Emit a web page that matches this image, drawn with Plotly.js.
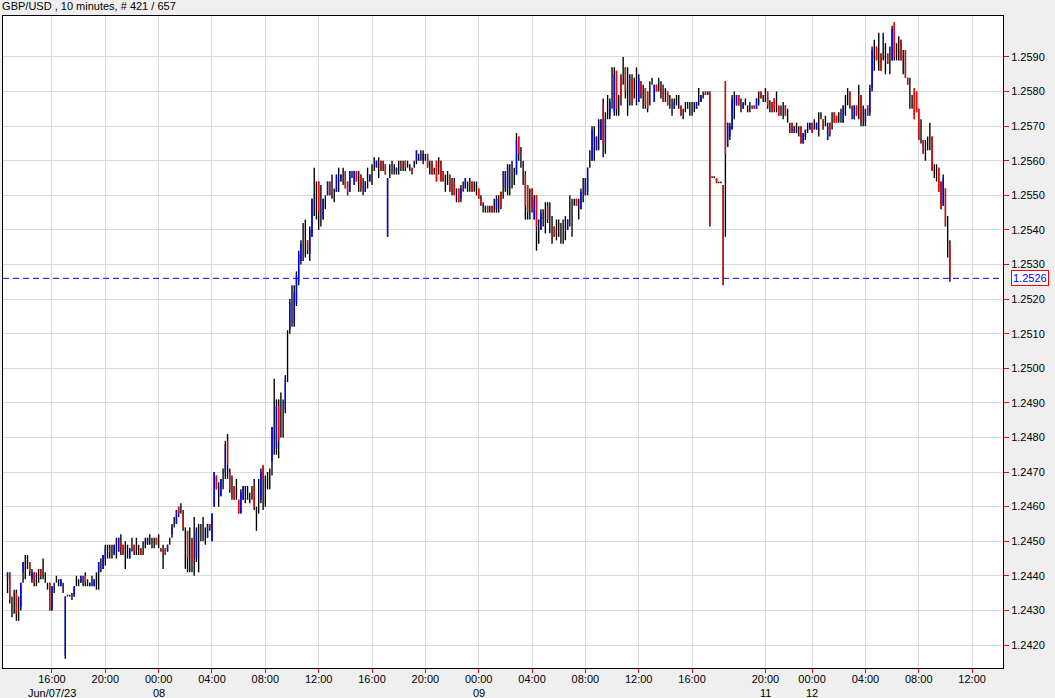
<!DOCTYPE html>
<html>
<head>
<meta charset="utf-8">
<script src="https://cdn.plot.ly/plotly-3.0.1.min.js"></script>
<style>
  html, body { margin: 0; padding: 0; background: #efefef; }
  #chart { width: 1055px; height: 698px; }
</style>
</head>
<body>
<div id="chart"></div>
<script>
// GBP/USD 10-minute bars. Prices stored as pips above 1.2400 (price = 1.2400 + pips * 0.0001)
const chartTitle = "GBP/USD , 10 minutes, # 421 / 657";
const PRICE_BASE = 1.24;
const PIP = 0.0001;

const openPips = [
  39,41,31,33,35,30,31,41,43,44,
  44,39,41,39,40,42,41,40,38,38,
  30,37,39,38,37,37,17,34,34,34,
  34,38,38,38,39,40,38,37,38,37,
  39,41,43,42,45,47,48,47,46,48,
  47,50,49,47,47,45,48,49,48,48,
  48,48,49,49,50,50,49,51,50,48,
  46,48,47,50,52,55,55,60,59,58,
  48,53,47,50,44,45,48,52,53,52,
  51,55,50,60,69,64,63,68,70,79,
  70,65,66,64,62,58,62,63,64,62,
  64,66,57,60,62,72,65,67,67,73,
  82,77,89,81,86,88,103,111,118,113,
  119,125,131,136,137,137,133,138,151,148,
  154,147,143,148,150,154,152,150,151,155,
  154,156,157,154,151,156,153,157,154,156,
  153,151,155,154,156,158,158,158,160,158,
  159,138,157,158,157,157,158,159,159,160,
  159,158,158,159,160,161,162,160,161,162,
  158,159,157,160,158,160,157,154,155,156,
  153,154,150,152,149,152,152,153,153,154,
  152,152,152,149,146,146,147,146,147,147,
  146,148,151,150,152,152,155,156,156,156,
  167,161,157,156,153,147,152,143,150,139,
  140,143,143,147,143,140,141,139,140,139,
  139,140,140,145,143,148,149,146,146,151,
  150,151,160,160,165,163,168,166,176,165,
  173,173,180,174,186,176,184,186,187,180,
  181,184,181,182,177,183,178,181,180,179,
  183,177,182,182,180,182,179,180,177,175,
  175,177,176,176,173,175,176,175,175,175,
  175,178,177,179,180,179,180,155,155,155,
  153.5,153.5,153,183,164,167,169,176,176,179,
  176,175,177,175,175,175,176,175,178,180,
  178,179,180,176,177,178,177,176,174,175,
  176,173,170,171,168,169,168,170,165,167,
  169,169,171,170,169,170,173,172,171,166,
  171,171,174,173,172,173,171,176,178,180,
  174,172,176,177,179,173,171,176,174,181,
  189,193,190,191,192,189,191,189,189,200,
  191,192,195,189,192,184,180,177,181,180,
  175,168,166,163,165,166,167,157,156,158,
  154,147,152,137,136
];

const highPips = [
  41,41,34,36,36,34,38,44,46,46,
  44,42,41,41,42,42,45,41,38,38,
  37,38,40,39,39,38,34,34.5,34.5,35,
  37,40,39,40,40,41,39,38,40,39,
  41,44,45,46,49,49,49,49,49,51,
  51,52,49,50,49,48,51,49,51,49,
  48,50,51,51,52,51,51,51,52,48,
  49,48,49,51,55,57,59,60,61,59,
  54,53,54,51,57,54,55,55,57,54,
  55,55,58,70,69,67,68,71,79,81,
  71,69,66,68,62,65,66,66,66,64,
  66,68,60,68,71,72,69,70,71,83,
  97,91,91,93,91,98,111,120,124,124,
  128,134,137,142,143,137,141,149,158,154,
  154,153,149,150,154,154,156,152,156,158,
  156,158,157,154,157,157,157,157,157,156,
  155,154,158,156,159,161,160,161,160,160,
  159,155,159,160,159,158,160,160,160,160,
  160,159,158,160,163,162,163,163,162,162,
  160,160,158,160,161,160,157,156,157,156,
  155,155,152,152,153,154,155,154,155,154,
  154,154,152,150,148,147,147,147,147,149,
  150,150,151,157,157,159,159,160,158,168,
  167,164,160,157,153,152,152,150,150,143,
  146,146,148,148,148,144,141,143,143,142,
  143,144,143,150,149,149,149,149,152,155,
  155,158,163,170,170,167,172,172,178,174,
  179,178,187,187,186,179,185,190,187,187,
  185,185,184,187,185,183,182,181,180,183,
  184,182,182,184,183,182,181,180,179,178,
  178,179,179,176,175,177,177,177,177,177,
  177,181,179,180,180,180,180,155.5,155.5,155,
  154,154,153,183,171,171,179,180,179,179,
  178,177,178,176,177,176,176,178,180,180,
  179,181,180,177.5,177,178,180,176,176,177,
  176,175,171,171,170,171,170,170,168,169,
  171,171,171,172,171,174,174,172,173,171,
  171,174,174,173,174,175,176,179,181,180,
  176,176,176,182,179,176,175,176,182,193,
  195,193,197,191,197,194,191,193,199,200,
  194,196,195,192,192,184,184,179,181,180,
  175,172,166,166,167,171,167,159,159,158,
  154,156,152,144,137
];

const lowPips = [
  35,32,28,29,27,27,30,38,39,42,
  40,38,37,37,38,39,39,38,36,30,
  30,35,38,37,37,35,16,34,34,33,
  34,37,37,38,37,37,37,37,37,37,
  36,36,41,42,43,45,45,45,46,45,
  47,46,46,42,45,45,47,46,46,46,
  46,46,48,49,49,48,48,49,48,47,
  42,46,47,49,51,54,55,57,58,53,
  42,41,41,41,40,44,41,50,50,49,
  51,53,50,60,65,60,63,65,68,68,
  64,62,62,62,58,58,62,61,62,61,
  62,59,53,58,61,59,60,65,65,69,
  75,75,74,80,80,87,96,110,112,112,
  118,124,130,131,132,133,131,138,144,143,
  140,141,143,146,150,150,149,148,151,151,
  154,153,152,150,151,155,153,154,151,151,
  150,151,152,154,153,157,158,155,157,157,
  156,138,155,156,156,156,156,157,157,157,
  158,157,156,158,159,160,160,159,160,158,
  156,156,156,154,156,154,154,151,153,151,
  150,150,148,148,148,151,152,151,151,151,
  151,150,149,147,145,145,145,145,145,145,
  145,145,146,149,151,150,150,152,153,156,
  160,158,153,143,143,143,145,143,134,136,
  140,141,139,142,139,136,138,137,138,136,
  136,137,140,141,138,147,147,143,146,148,
  150,150,158,160,160,163,163,166,161,162,
  172,172,175,173,173,173,176,182,178,173,
  176,176,178,176,177,178,175,175,174,176,
  182,177,180,180,178,177,177,176,175,173,
  175,176,175,173,172,174,175,173,173,174,
  175,176,177,178,179,179,141,155,155,153.5,
  153.5,153.5,124,138,164,166,169,172,176,176,
  174,175,176,174,174,175,175,175,176,178,
  177,177,175,174,174,174,174,173,173,172,
  173,171,168,168,168,168,167,165,165,166,
  168,169,168,169,169,167,172,169,170,166,
  167,169,171,171,171,171,171,173,176,175,
  172,172,173,172,170,170,170,173,173,180,
  186,189,186,186,189,185,188,185,189,189,
  189,189,189,185,184,182,175,175,172,174,
  166,165,162,160,163,163,157,155,154,151,
  146,147,141,132,125
];

const closePips = [
  41,33,31,33,29,30,38,44,43,44,
  41,41,38,39,40,40,41,40,38,30,
  37,37,39,38,39,37,34,34,34,34,
  37,38,38,40,39,38,38,38,38,39,
  39,44,43,46,48,47,47,47,49,48,
  51,48,46,47,47,48,48,47,48,48,
  46,48,49,51,50,50,49,49,50,47,
  46,46,49,50,54,55,59,58,59,54,
  48,45,47,44,44,53,48,52,53,52,
  55,54,58,70,65,64,68,68,78,72,
  65,65,62,64,58,64,66,63,64,62,
  64,60,57,60,70,68,65,67,67,83,
  82,89,79,81,86,97,103,119,118,122,
  127,133,136,136,137,134,140,149,151,148,
  145,147,149,148,154,150,152,150,156,155,
  156,156,152,150,157,156,157,154,154,152,
  153,154,155,156,156,158,160,158,157,158,
  156,155,157,158,157,158,158,158,159,158,
  159,158,157,159,163,161,162,162,161,158,
  158,156,157,154,158,154,154,154,155,151,
  153,150,150,148,152,152,155,153,153,151,
  152,152,149,147,146,146,145,146,145,147,
  149,148,147,150,157,158,155,156,156,166,
  162,161,157,147,145,147,146,149,141,139,
  145,143,143,143,143,140,138,139,140,139,
  139,140,143,145,143,148,147,146,151,151,
  155,158,160,169,165,167,168,172,165,172,
  173,177,180,185,175,176,178,186,180,180,
  181,177,181,182,184,179,178,176,175,179,
  183,182,180,182,180,177,179,176,177,175,
  177,177,176,173,173,175,176,175,175,175,
  177,178,179,179,179,180,141,155,155,153.5,
  153.5,153.5,124,162,171,170,178,176,179,176,
  176,176.5,177,175,175,175,175,178,178,178,
  178,179,176,176,174,175,177,173,174,175,
  173,173,170,168,170,169,168,165,168,169,
  169,171,168,170,171,170,173,169,171,170,
  168,171,171,171,172,173,176,176,178,176,
  174,176,173,177,171,173,175,173,181,192,
  189,189,190,186,192,189,188,189,198,190,
  191,192,189,189,184,182,180,177,172,174,
  166,168,162,163,165,166,157,157,156,151,
  146,155,141,137,126
];

// x-axis tick labels (bar index of each labelled bar, and its text)
const tickIndex = [20, 44, 68, 92, 116, 140, 164, 188, 212, 236, 260, 284, 308, 341, 362, 386, 410, 434];
const tickTimes = ["16:00","20:00","00:00","04:00","08:00","12:00","16:00","20:00","00:00","04:00","08:00","12:00","16:00","20:00","00:00","04:00","08:00","12:00"];
const tickDates = ["Jun/07/23","","08","","","","","","09","","","","","11","12","","",""];

// ---------- build ----------
const n = Math.min(openPips.length, highPips.length, lowPips.length, closePips.length);
const toPrice = p => +(PRICE_BASE + p * PIP).toFixed(5);
const idx = [], O = [], H = [], L = [], C = [];
for (let i = 0; i < n; i++) {
  idx.push(i);
  O.push(toPrice(openPips[i])); H.push(toPrice(highPips[i]));
  L.push(toPrice(lowPips[i]));  C.push(toPrice(closePips[i]));
}
const wickBase = [], wickLen = [], bodyBase = [], bodyLen = [], bodyColor = [];
for (let i = 0; i < n; i++) {
  const hi = Math.max(H[i], O[i], C[i]);
  const lo = Math.min(L[i], O[i], C[i]);
  wickBase.push(lo); wickLen.push(+(hi - lo).toFixed(6));
  bodyBase.push(Math.min(O[i], C[i]));
  bodyLen.push(+Math.abs(C[i] - O[i]).toFixed(6));
  bodyColor.push(C[i] > O[i] ? '#0000ff' : (C[i] < O[i] ? '#ff0000' : '#000000'));
}
const lastClose = C[n - 1];

const yTicks = [];
for (let k = 0; k <= 17; k++) yTicks.push(+(1.242 + k * 0.001).toFixed(4));

const FONT = 'Liberation Sans, Arial, sans-serif';

const traces = [
  { type: 'bar', x: idx, base: wickBase, y: wickLen, width: 0.62,
    marker: { color: '#000000', line: { width: 0 } }, hoverinfo: 'skip', showlegend: false },
  { type: 'bar', x: idx, base: bodyBase, y: bodyLen, width: 0.62,
    marker: { color: bodyColor, line: { width: 0 } }, hoverinfo: 'skip', showlegend: false }
];

const dateAnnotations = [];
tickIndex.forEach((xi, j) => {
  if (tickDates[j]) {
    dateAnnotations.push({ xref: 'x', yref: 'paper', x: xi, y: 0, xanchor: 'center', yanchor: 'middle',
      yshift: -25, text: tickDates[j], showarrow: false, borderpad: 0,
      font: { family: FONT, size: 11, color: '#000000' } });
  }
});

const layout = {
  width: 1055, height: 698,
  paper_bgcolor: '#efefef', plot_bgcolor: '#ffffff',
  margin: { l: 3, r: 52, t: 16, b: 30, pad: 0 },
  barmode: 'overlay',
  showlegend: false,
  font: { family: FONT, size: 11, color: '#000000' },
  title: { text: chartTitle, font: { family: FONT, size: 11, color: '#000000' },
           x: 0.002, xref: 'container', xanchor: 'left',
           y: 0.9915, yref: 'container', yanchor: 'middle', pad: { t: 0, b: 0, l: 0, r: 0 } },
  xaxis: {
    range: [-2.03, 447.9], tickmode: 'array', tickvals: tickIndex, ticktext: tickTimes,
    showgrid: true, gridcolor: '#d9d9d9', gridwidth: 1, zeroline: false,
    showline: true, linecolor: '#000000', linewidth: 1, mirror: true,
    ticks: 'outside', ticklen: 4, tickcolor: '#ff0000', tickwidth: 1, ticklabelstandoff: -3,
    tickfont: { family: FONT, size: 11, color: '#000000' }, fixedrange: true
  },
  yaxis: {
    side: 'right', range: [1.241335, 1.260184], tickmode: 'array', tickvals: yTicks,
    ticktext: yTicks.map(v => v.toFixed(4)),
    showgrid: true, gridcolor: '#d9d9d9', gridwidth: 1, zeroline: false,
    showline: true, linecolor: '#000000', linewidth: 1, mirror: true,
    ticks: 'outside', ticklen: 5, tickcolor: '#ff0000', tickwidth: 1,
    tickfont: { family: FONT, size: 11, color: '#000000' }, fixedrange: true
  },
  shapes: [
    { type: 'line', xref: 'paper', yref: 'y', x0: 0, x1: 1, y0: lastClose, y1: lastClose,
      line: { color: '#0000ff', width: 1, dash: '6px,4px' }, layer: 'above' }
  ],
  annotations: dateAnnotations.concat([
    { xref: 'paper', yref: 'y', x: 1, y: lastClose, xanchor: 'left', yanchor: 'middle',
      xshift: 8, text: lastClose.toFixed(4), showarrow: false,
      font: { family: FONT, size: 11, color: '#0000ff' },
      bgcolor: '#ffffff', bordercolor: '#ff0000', borderwidth: 1, borderpad: 1 }
  ])
};

Plotly.newPlot('chart', traces, layout, { displayModeBar: false, staticPlot: true });
</script>
</body>
</html>
